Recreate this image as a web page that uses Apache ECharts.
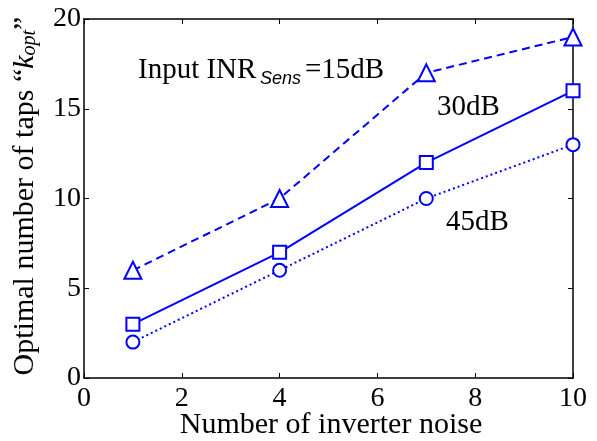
<!DOCTYPE html>
<html><head><meta charset="utf-8">
<script src="https://cdn.jsdelivr.net/npm/echarts@6/dist/echarts.min.js"></script>
<style>html,body{margin:0;padding:0;background:#fff}#c{width:597px;height:441px}</style>
</head><body><div id="c"></div>
<script>
const xValues = [1, 4, 7, 10];
const inr15 = [6, 10, 17, 19];
const inr30 = [3, 7, 12, 16];
const inr45 = [2, 6, 10, 13];
const xTicks = [0, 2, 4, 6, 8, 10];
const yTicks = [0, 5, 10, 15, 20];

const F = '"Liberation Serif", "Times New Roman", serif';
const blue = '#0000ff';
const chart = echarts.init(document.getElementById('c'), null, {renderer: 'canvas'});
const pair = arr => xValues.map((x, i) => [x, arr[i]]);
const mk = (name, data, dash, sym, size) => ({
  name, type: 'line', data: pair(data), symbol: sym, symbolSize: size,
  lineStyle: {color: blue, width: 2, type: dash}, itemStyle: {color: blue, borderWidth: 2, borderColor: blue},
  animation: false
});
const baseAxis = {
  axisLine: {show: true, onZero: false, lineStyle: {color: '#000', width: 1.5}},
  axisTick: {show: true, inside: true, length: 5, lineStyle: {color: '#000', width: 1}},
  splitLine: {show: false}
};
chart.setOption({
  backgroundColor: '#fff',
  animation: false,
  grid: {left: 84, right: 24, top: 19, bottom: 63, containLabel: false},
  xAxis: [
    Object.assign({}, baseAxis, {type: 'value', min: 0, max: 10, interval: 2, position: 'bottom',
      axisLabel: {fontFamily: F, fontSize: 28, color: '#000', margin: 7, formatter: v => xTicks.includes(v) ? String(v) : ''}}),
    Object.assign({}, baseAxis, {type: 'value', min: 0, max: 10, interval: 2, position: 'top', axisLabel: {show: false}})
  ],
  yAxis: [
    Object.assign({}, baseAxis, {type: 'value', min: 0, max: 20, interval: 5, position: 'left',
      axisLabel: {fontFamily: F, fontSize: 28, color: '#000', margin: 3, formatter: v => yTicks.includes(v) ? String(v) : ''}}),
    Object.assign({}, baseAxis, {type: 'value', min: 0, max: 20, interval: 5, position: 'right', axisLabel: {show: false}})
  ],
  series: [
    mk('15dB', inr15, [8, 5], 'emptyTriangle', 17),
    mk('30dB', inr30, 'solid', 'emptyRect', 13),
    mk('45dB', inr45, [2, 3], 'emptyCircle', 13)
  ],
  graphic: [
    {type: 'text', x: 331, y: 425, style: {text: 'Number of inverter noise', font: '30px ' + F, fill: '#000', textAlign: 'center', textVerticalAlign: 'middle'}},
    {type: 'text', x: 25, y: 196, rotation: Math.PI / 2, style: {
      text: '{n|Optimal number of taps “}{k|k}{s|opt}{n|”}',
      fill: '#000', textAlign: 'center', textVerticalAlign: 'middle',
      rich: {
        n: {fontFamily: F, fontSize: 30, fill: '#000'},
        k: {fontFamily: F, fontSize: 30, fontStyle: 'italic', fill: '#000'},
        s: {fontFamily: F, fontSize: 20, fontStyle: 'italic', fill: '#000', padding: [10, 0, 0, 0]}
      }
    }},
    {type: 'text', x: 138, y: 70, style: {text: 'Input INR', font: '29px ' + F, fill: '#000', textVerticalAlign: 'middle'}},
    {type: 'text', x: 260, y: 79, style: {text: 'Sens', font: 'italic 18px "Liberation Sans", Arial, sans-serif', fill: '#000', textVerticalAlign: 'middle'}},
    {type: 'text', x: 305, y: 70, style: {text: '=15dB', font: '29px ' + F, fill: '#000', textVerticalAlign: 'middle'}},
    {type: 'text', x: 437, y: 107, style: {text: '30dB', font: '29px ' + F, fill: '#000', textVerticalAlign: 'middle'}},
    {type: 'text', x: 446, y: 222, style: {text: '45dB', font: '29px ' + F, fill: '#000', textVerticalAlign: 'middle'}}
  ]
});
</script></body></html>
